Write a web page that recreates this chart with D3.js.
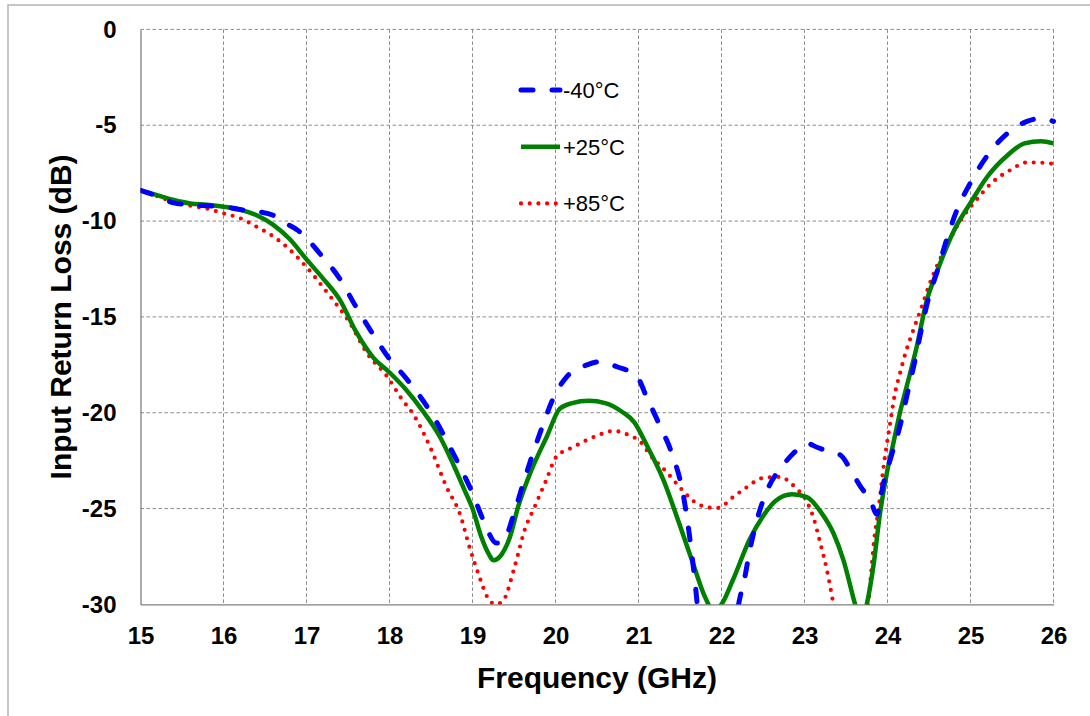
<!DOCTYPE html>
<html>
<head>
<meta charset="utf-8">
<script src="https://cdn.jsdelivr.net/npm/d3@7"></script>
<style>
  body { margin: 0; background: #fff; }
  svg { display: block; font-family: "Liberation Sans", Arial, sans-serif; }
</style>
</head>
<body>
<svg id="chart" width="1090" height="716"></svg>
<script>
// Axis ticks
const xTicks = [15, 16, 17, 18, 19, 20, 21, 22, 23, 24, 25, 26];
const yTicks = [0, -5, -10, -15, -20, -25, -30];

// Series, [GHz, dB]
const minus40 = [
  [15.0, -8.4], [15.2, -8.7], [15.4, -9.05], [15.6, -9.15], [15.8, -9.2], [16.0, -9.25],
  [16.2, -9.4], [16.4, -9.5], [16.6, -9.7], [16.7, -10.0], [16.9, -10.5], [17.2, -11.9],
  [17.4, -13.0], [17.6, -14.5], [17.8, -15.9], [18.0, -17.2], [18.2, -18.2], [18.5, -20.0],
  [18.8, -22.4], [19.0, -24.2], [19.13, -25.6], [19.29, -26.8], [19.37, -26.7], [19.49, -25.4],
  [19.61, -23.7], [19.81, -21.1], [20.0, -19.0], [20.14, -18.1], [20.38, -17.5], [20.54, -17.34],
  [20.74, -17.6], [20.98, -18.1], [21.1, -19.2], [21.26, -20.7], [21.4, -22.1], [21.54, -24.3],
  [21.62, -26.6], [21.68, -28.8], [21.72, -30.5], [21.8, -33], [22.1, -33], [22.21, -29.9],
  [22.28, -28.6], [22.34, -27.2], [22.44, -25.4], [22.56, -23.95], [22.73, -22.8], [22.87, -22.1],
  [23.03, -21.6], [23.15, -21.8], [23.35, -22.1], [23.43, -22.2], [23.59, -23.25], [23.69, -23.95],
  [23.79, -24.5], [23.87, -25.3], [23.95, -23.7], [24.05, -22.2], [24.15, -20.7], [24.25, -18.8],
  [24.33, -17.3], [24.41, -15.6], [24.49, -14.1], [24.6, -12.6], [24.71, -11.0], [24.83, -9.5],
  [25.0, -8.0], [25.2, -6.6], [25.45, -5.4], [25.68, -4.8], [25.85, -4.64], [26.0, -4.8]
];
const plus25 = [
  [15.0, -8.4], [15.2, -8.65], [15.4, -8.9], [15.6, -9.08], [15.8, -9.15], [16.0, -9.25],
  [16.2, -9.4], [16.4, -9.7], [16.6, -10.2], [16.8, -10.95], [17.0, -12.0], [17.2, -13.0],
  [17.4, -14.1], [17.6, -15.8], [17.8, -17.1], [18.0, -17.9], [18.2, -18.8], [18.4, -19.9],
  [18.6, -21.2], [18.8, -23.0], [18.9, -24.0], [19.0, -25.0], [19.1, -26.4], [19.2, -27.4],
  [19.25, -27.7], [19.35, -27.4], [19.45, -26.5], [19.55, -24.9], [19.7, -23.1], [19.9, -21.2],
  [20.05, -19.8], [20.2, -19.5], [20.4, -19.38], [20.6, -19.5], [20.8, -19.95], [20.95, -20.5],
  [21.1, -21.7], [21.3, -23.5], [21.5, -25.9], [21.66, -27.9], [21.8, -29.6], [21.9, -30.3],
  [22.0, -30.0], [22.14, -28.7], [22.34, -26.6], [22.5, -25.4], [22.65, -24.6], [22.85, -24.25],
  [23.03, -24.4], [23.2, -25.2], [23.35, -26.3], [23.47, -27.7], [23.61, -30.0], [23.68, -31.0],
  [23.75, -30.0], [23.83, -28.0], [23.91, -25.25], [23.99, -23.2], [24.07, -21.6], [24.15, -20.0],
  [24.23, -18.65], [24.35, -16.6], [24.47, -14.2], [24.6, -12.6], [24.8, -10.5], [25.0, -9.05],
  [25.2, -7.7], [25.45, -6.55], [25.65, -5.95], [25.85, -5.83], [26.0, -5.95]
];
const plus85 = [
  [15.0, -8.4], [15.2, -8.7], [15.4, -9.0], [15.6, -9.2], [15.8, -9.35], [16.0, -9.6],
  [16.2, -9.85], [16.4, -10.3], [16.6, -10.8], [16.8, -11.5], [17.0, -12.4], [17.28, -13.9],
  [17.52, -15.3], [17.73, -16.9], [17.97, -18.1], [18.15, -19.3], [18.29, -20.1], [18.49, -21.8],
  [18.69, -23.9], [18.85, -25.3], [18.97, -27.1], [19.07, -28.4], [19.19, -29.7], [19.28, -30.0],
  [19.37, -29.8], [19.51, -28.0], [19.63, -26.1], [19.75, -24.9], [19.89, -23.5], [20.01, -22.3],
  [20.21, -21.8], [20.5, -21.2], [20.7, -20.95], [20.9, -21.2], [21.02, -21.5], [21.14, -22.2],
  [21.34, -23.1], [21.5, -23.9], [21.66, -24.6], [21.86, -24.95], [21.96, -24.96], [22.14, -24.4],
  [22.3, -23.9], [22.5, -23.4], [22.7, -23.35], [22.89, -23.9], [23.03, -24.65], [23.11, -25.5],
  [23.19, -26.8], [23.27, -28.2], [23.35, -30.0], [23.5, -33], [23.7, -33], [23.77, -29.9],
  [23.81, -28.0], [23.84, -26.6], [23.89, -25.1], [23.95, -22.9], [24.03, -20.6], [24.09, -19.0],
  [24.15, -17.95], [24.23, -16.7], [24.31, -15.7], [24.41, -14.5], [24.51, -13.25], [24.71, -11.3],
  [24.91, -9.78], [25.07, -8.9], [25.27, -7.95], [25.48, -7.34], [25.68, -6.94], [25.88, -6.96],
  [26.0, -7.02]
];

const seriesNames = ["-40°C", "+25°C", "+85°C"];
const seriesData = [minus40, plus25, plus85];
const seriesStyle = [
  { color: "#0000ff", width: 5, dash: "12,19", cap: "round" },
  { color: "#008000", width: 4.5, dash: null, cap: "butt" },
  { color: "#ff0000", width: 4.2, dash: "0,8.7", cap: "round" }
];

const svg = d3.select("#chart");
const plot = { left: 140.5, top: 29.4, right: 1053.5, bottom: 604.4 };

// outer chart border (runs off the picture at right/bottom)
svg.append("rect")
  .attr("x", 8).attr("y", 5).attr("width", 1100).attr("height", 730)
  .attr("fill", "none").attr("stroke", "#b4b4b4").attr("stroke-width", 1.5);

const x = d3.scaleLinear().domain([15, 26]).range([plot.left, plot.right]);
const y = d3.scaleLinear().domain([-30, 0]).range([plot.bottom, plot.top]);

// grid
const grid = svg.append("g").attr("stroke", "#8c8c8c").attr("stroke-width", 1)
  .attr("stroke-dasharray", "3.5,2.5").attr("fill", "none");
grid.selectAll("line.v").data(xTicks.slice(1)).enter().append("line")
  .attr("x1", d => x(d)).attr("x2", d => x(d))
  .attr("y1", plot.top).attr("y2", plot.bottom);
grid.selectAll("line.h").data(yTicks.slice(0, -1)).enter().append("line")
  .attr("x1", plot.left).attr("x2", plot.right)
  .attr("y1", d => y(d)).attr("y2", d => y(d));

// axes (solid left and bottom), plain hyphen for negatives
const xAxis = svg.append("g").attr("transform", `translate(0,${plot.bottom})`)
  .call(d3.axisBottom(x).tickValues(xTicks).tickSize(0).tickPadding(23).tickFormat(d => String(d)));
const yAxis = svg.append("g").attr("transform", `translate(${plot.left},0)`)
  .call(d3.axisLeft(y).tickValues(yTicks).tickSize(0).tickPadding(24).tickFormat(d => String(d)));
[xAxis, yAxis].forEach(a => {
  a.select(".domain").attr("stroke", "#808080").attr("stroke-width", 1.3);
  a.selectAll("text").attr("font-size", 24).attr("font-weight", "bold")
    .attr("font-family", "'Liberation Sans', Arial, sans-serif").attr("fill", "#000");
});

// clip curves to plot
svg.append("clipPath").attr("id", "plotClip").append("rect")
  .attr("x", plot.left).attr("y", plot.top - 3)
  .attr("width", plot.right - plot.left + 3).attr("height", plot.bottom - plot.top + 3);

const line = d3.line().x(d => x(d[0])).y(d => y(d[1])).curve(d3.curveMonotoneX);

const curves = svg.append("g").attr("clip-path", "url(#plotClip)");
// draw +85 first, then +25, then -40 on top
[2, 1, 0].forEach(i => {
  const s = seriesStyle[i];
  curves.append("path").datum(seriesData[i])
    .attr("d", line).attr("fill", "none")
    .attr("stroke", s.color).attr("stroke-width", s.width)
    .attr("stroke-linecap", s.cap).attr("stroke-linejoin", "round")
    .attr("stroke-dasharray", s.dash);
});

// legend
const legend = svg.append("g");
seriesNames.forEach((name, i) => {
  const s = seriesStyle[i];
  const ly = 90 + i * 56.7;
  legend.append("line")
    .attr("x1", 521).attr("x2", 560).attr("y1", ly).attr("y2", ly)
    .attr("stroke", s.color).attr("stroke-width", s.width)
    .attr("stroke-linecap", s.cap).attr("stroke-dasharray", s.dash);
  legend.append("text")
    .attr("x", 563).attr("y", ly + 8)
    .attr("font-size", 22).attr("fill", "#000")
    .text(name);
});

// axis titles
svg.append("text")
  .attr("x", (plot.left + plot.right) / 2).attr("y", 688)
  .attr("text-anchor", "middle").attr("font-size", 30).attr("font-weight", "bold")
  .text("Frequency (GHz)");
svg.append("text")
  .attr("transform", `translate(71,${(plot.top + plot.bottom) / 2}) rotate(-90)`)
  .attr("text-anchor", "middle").attr("font-size", 30).attr("font-weight", "bold")
  .text("Input Return Loss (dB)");
</script>
</body>
</html>
